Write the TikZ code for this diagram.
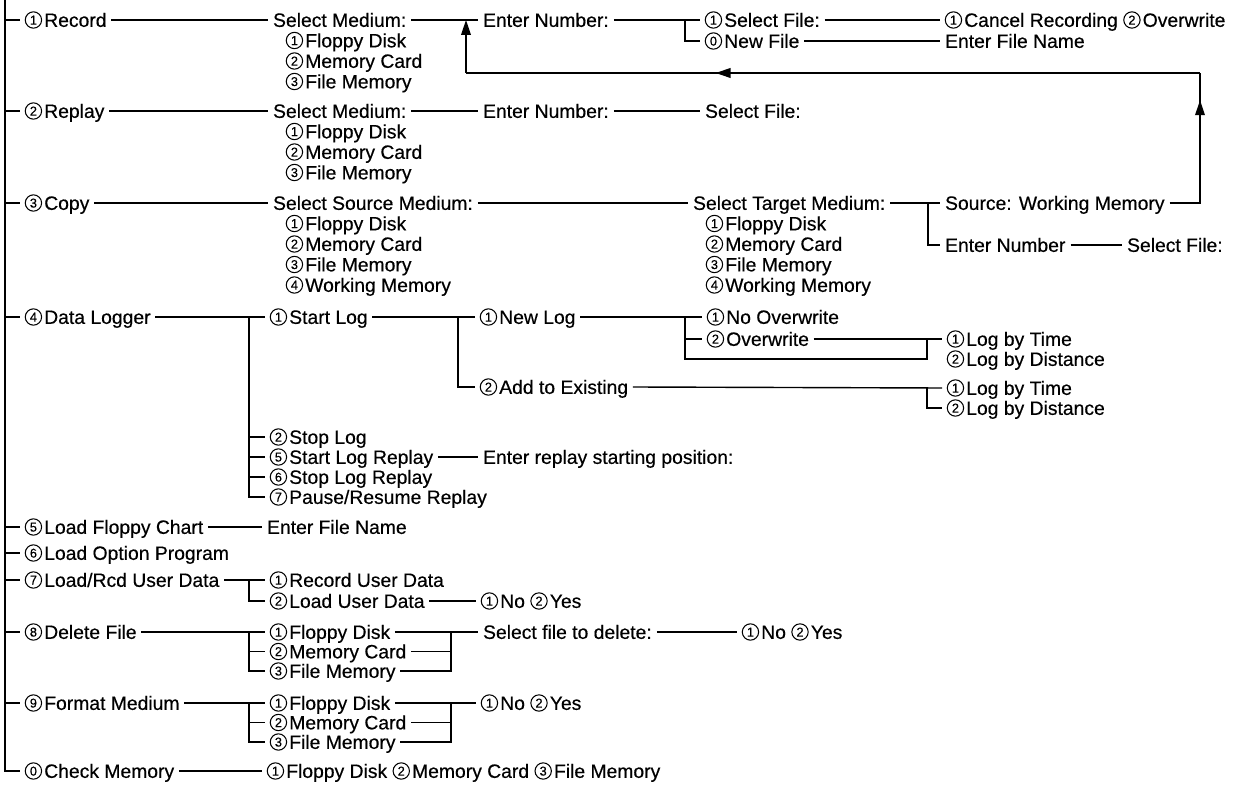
\documentclass[tikz,border=0pt]{standalone}
\usepackage{fontspec}
\setmainfont[FakeBold=0.4]{Liberation Sans}
\usetikzlibrary{arrows.meta, decorations.markings}
% numero dentro de un circulo
\newcommand{\cn}[1]{\tikz[baseline={([yshift=-1.3pt]cnode.base)}]
	\node[circle, draw, line width=0.6pt, inner sep=0pt, minimum size=9.3pt, text height=5.2pt, text depth=0pt, font=\fontsize{7.3}{8}\selectfont] (cnode) {#1};\kern1.2pt}

\begin{document}
\begin{tikzpicture}[
		x=0.02cm, y=-0.02cm, line width=0.8pt,
		menu/.style = {anchor=west, inner xsep=2.5pt, inner ysep=0pt, text height=9.5pt, text depth=1.7pt, font=\fontsize{11}{13}\selectfont},
		arrow_mid/.style = {postaction={decorate}, decoration={markings, mark=at position #1 with {\arrow{Triangle[length=8.5pt,width=5.5pt]}}}},
		>={Triangle[length=8.5pt,width=5.5pt]}
		]
		\useasboundingbox (0,0) rectangle (1253,786);
		
		% --- EJES DE LAS LLAVES ---
		\coordinate (trunk) at (5,0);
		\coordinate (bkL) at (249,0);
		\coordinate (bkM) at (458,0);
		\coordinate (bkR) at (451,0);
		\coordinate (bkA) at (685,0);
		\coordinate (bkT) at (928,0);
		\coordinate (bkF) at (927,0);
		\coordinate (loopA) at (466,73);
		\coordinate (loopB) at (1200,73);
		
		% --- MENU PRINCIPAL ---
		\node [menu] (rec) at (20,20)  {\cn1Record};
		\node [menu] (rep) at (20,111) {\cn2Replay};
		\node [menu] (cop) at (20,203) {\cn3Copy};
		\node [menu] (dlg) at (20,317) {\cn4Data Logger};
		\node [menu] (lfc) at (20,527) {\cn5Load Floppy Chart};
		\node [menu] (lop) at (20,553) {\cn6Load Option Program};
		\node [menu] (lud) at (20,580) {\cn7Load/Rcd User Data};
		\node [menu] (del) at (20,632) {\cn8Delete File};
		\node [menu] (fmt) at (20,703) {\cn9Format Medium};
		\node [menu] (chk) at (20,771) {\cn0Check Memory};
		
		% --- 1. RECORD ---
		\node [menu] (recsm) at (268,20) {Select Medium:};
		\foreach \t [count=\i] in {\cn1Floppy Disk, \cn2Memory Card, \cn3File Memory}
			\node [menu] (recm\i) at (281,{20+20.5*\i}) {\t};
		\node [menu] (recen)  at (478,20) {Enter Number:};
		\node [menu] (recsf)  at (700,20) {\cn1Select File:};
		\node [menu] (recnf)  at (700,41) {\cn0New File};
		\node [menu] (reccan) at (940,20) {\cn1Cancel Recording \cn2Overwrite};
		\node [menu] (recfn)  at (940,41) {Enter File Name};
		
		% --- 2. REPLAY ---
		\node [menu] (repsm) at (268,111) {Select Medium:};
		\foreach \t [count=\i] in {\cn1Floppy Disk, \cn2Memory Card, \cn3File Memory}
			\node [menu] (repm\i) at (281,{111+20.5*\i}) {\t};
		\node [menu] (repen) at (478,111) {Enter Number:};
		\node [menu] (repsf) at (700,111) {Select File:};
		
		% --- 3. COPY ---
		\node [menu] (copsm) at (268,203) {Select Source Medium:};
		\foreach \t [count=\i] in {\cn1Floppy Disk, \cn2Memory Card, \cn3File Memory, \cn4Working Memory}
			\node [menu] (copm\i) at (281,{203+20.5*\i}) {\t};
		\node [menu] (coptm) at (688,203) {Select Target Medium:};
		\foreach \t [count=\i] in {\cn1Floppy Disk, \cn2Memory Card, \cn3File Memory, \cn4Working Memory}
			\node [menu] (coptm\i) at (701,{203+20.5*\i}) {\t};
		\node [menu] (copsw) at (940,203)  {Source: Working Memory};
		\node [menu] (copen) at (940,245)  {Enter Number};
		\node [menu] (copsf) at (1122,245) {Select File:};
		
		% --- 4. DATA LOGGER ---
		\node [menu] (dlgst)  at (265,317) {\cn1Start Log};
		\node [menu] (dlgnl)  at (475,317) {\cn1New Log};
		\node [menu] (dlgno)  at (702,317) {\cn1No Overwrite};
		\node [menu] (dlgow)  at (702,339) {\cn2Overwrite};
		\node [menu] (dlgt1)  at (942,339) {\cn1Log by Time};
		\node [menu] (dlgd1)  at (942,359) {\cn2Log by Distance};
		\node [menu] (dlgadd) at (475,387) {\cn2Add to Existing};
		\node [menu] (dlgt2)  at (942,388) {\cn1Log by Time};
		\node [menu] (dlgd2)  at (942,408) {\cn2Log by Distance};
		\node [menu] (dlgsp)  at (265,437) {\cn2Stop Log};
		\node [menu] (dlgsr)  at (265,457) {\cn5Start Log Replay};
		\node [menu] (dlgpos) at (478,457) {Enter replay starting position:};
		\node [menu] (dlgxr)  at (265,477) {\cn6Stop Log Replay};
		\node [menu] (dlgpr)  at (265,497) {\cn7Pause/Resume Replay};
		
		% --- 5 A 0 ---
		\node [menu] (lfcfn)  at (262,527) {Enter File Name};
		\node [menu] (udrec)  at (265,580) {\cn1Record User Data};
		\node [menu] (udld)   at (265,601) {\cn2Load User Data};
		\node [menu] (udyn)   at (476,601) {\cn1No \cn2Yes};
		\node [menu] (delf)   at (265,632) {\cn1Floppy Disk};
		\node [menu] (delm)   at (265,651.5) {\cn2Memory Card};
		\node [menu] (delfm)  at (265,671) {\cn3File Memory};
		\node [menu] (delsel) at (478,632) {Select file to delete:};
		\node [menu] (delyn)  at (737,632) {\cn1No \cn2Yes};
		\node [menu] (fmtf)   at (265,703) {\cn1Floppy Disk};
		\node [menu] (fmtm)   at (265,722.5) {\cn2Memory Card};
		\node [menu] (fmtfm)  at (265,742) {\cn3File Memory};
		\node [menu] (fmtyn)  at (476,703) {\cn1No \cn2Yes};
		\node [menu] (chkall) at (262,771) {\cn1Floppy Disk \cn2Memory Card \cn3File Memory};
		
		% --- CONEXIONES: TRONCO ---
		\draw (trunk) |- (chk.west);
		\foreach \n in {rec, rep, cop, dlg, lfc, lop, lud, del, fmt}
			\draw (\n.west -| trunk) -- (\n.west);
		
		% Record
		\draw (rec.east) -- (recsm.west);
		\draw (recsm.east) -- (recen.west);
		\draw (recen.east) -- (recsf.west);
		\draw (recsf.west -| bkA) |- (recnf.west);
		\draw (recsf.east) -- (reccan.west);
		\draw (recnf.east) -- (recfn.west);
		
		% Replay
		\draw (rep.east) -- (repsm.west);
		\draw (repsm.east) -- (repen.west);
		\draw (repen.east) -- (repsf.west);
		
		% Copy
		\draw (cop.east) -- (copsm.west);
		\draw (copsm.east) -- (coptm.west);
		\draw (coptm.east) -- (copsw.west);
		\draw (copsw.west -| bkT) |- (copen.west);
		\draw (copen.east) -- (copsf.west);
		
		% Lazo de vuelta a Select Medium
		\draw [arrow_mid=0.83] (copsw.east) -| (loopB);
		\draw [arrow_mid=0.66] (loopB) -- (loopA);
		\draw [->] (loopA) -- (loopA |- recsm.east);
		
		% Data Logger
		\draw (dlg.east) -- (dlgst.west);
		\draw (dlgst.west -| bkL) |- (dlgpr.west);
		\foreach \n in {dlgsp, dlgsr, dlgxr}
			\draw (\n.west -| bkL) -- (\n.west);
		\draw (dlgst.east) -- (dlgnl.west);
		\draw (dlgnl.west -| bkM) |- (dlgadd.west);
		\draw (dlgnl.east) -- (dlgno.west);
		\draw (dlgno.west -| bkA) |- (dlgd1.west -| bkF) -- (dlgt1.west -| bkF);
		\draw (dlgow.west -| bkA) -- (dlgow.west);
		\draw (dlgow.east) -- (dlgt1.west);
		\draw (dlgadd.east) -- (dlgt2.west);
		\draw (dlgt2.west -| bkF) |- (dlgd2.west);
		\draw (dlgsr.east) -- (dlgpos.west);
		
		% Load Floppy Chart / User Data
		\draw (lfc.east) -- (lfcfn.west);
		\draw (lud.east) -- (udrec.west);
		\draw (udrec.west -| bkL) |- (udld.west);
		\draw (udld.east) -- (udyn.west);
		
		% Delete File
		\draw (del.east) -- (delf.west);
		\draw (delf.west -| bkL) |- (delfm.west);
		\draw (delm.west -| bkL) -- (delm.west);
		\draw (delf.east) -- (delsel.west);
		\draw (delm.east) -- (delm.east -| bkR);
		\draw (delfm.east) -| (delf.east -| bkR);
		\draw (delsel.east) -- (delyn.west);
		
		% Format Medium
		\draw (fmt.east) -- (fmtf.west);
		\draw (fmtf.west -| bkL) |- (fmtfm.west);
		\draw (fmtm.west -| bkL) -- (fmtm.west);
		\draw (fmtf.east) -- (fmtyn.west);
		\draw (fmtm.east) -- (fmtm.east -| bkR);
		\draw (fmtfm.east) -| (fmtf.east -| bkR);
		
		% Check Memory
		\draw (chk.east) -- (chkall.west);
		
	\end{tikzpicture}
\end{document}
